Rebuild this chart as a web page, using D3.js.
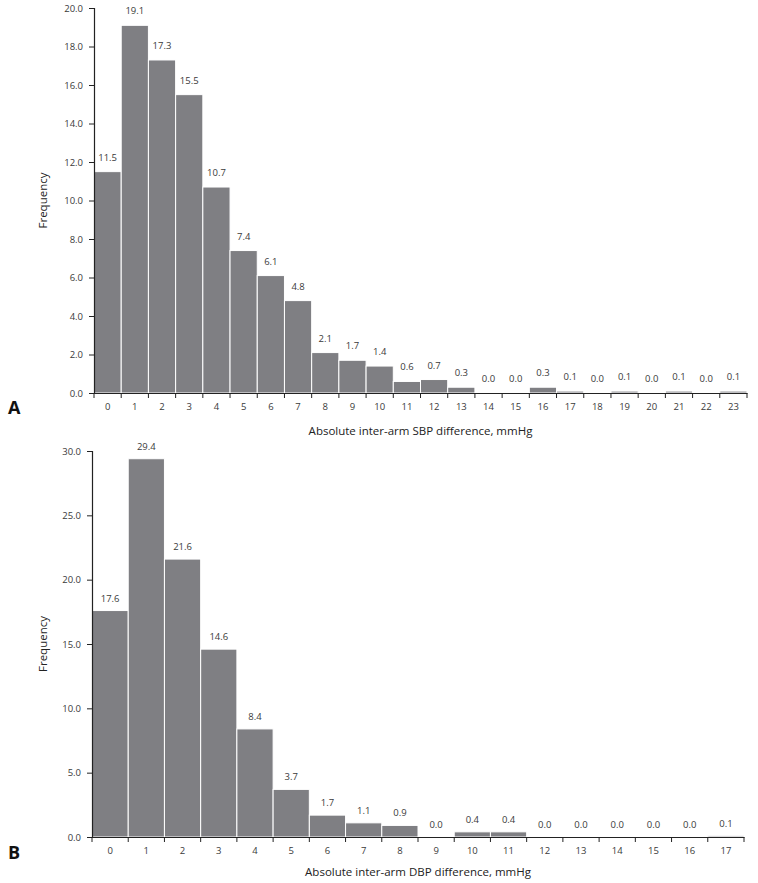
<!DOCTYPE html>
<html><head><meta charset="utf-8">
<script src="https://cdn.jsdelivr.net/npm/d3@7"></script>
<style>
body{margin:0;background:#fff;}
text{font-family:"Open Sans","DejaVu Sans",sans-serif;}
</style></head>
<body><svg id="c" width="758" height="883"></svg>
<script>
const binsA = d3.range(0, 24).map(String);
const freqA = [11.5,19.1,17.3,15.5,10.7,7.4,6.1,4.8,2.1,1.7,1.4,0.6,0.7,0.3,0.0,0.0,0.3,0.1,0.0,0.1,0.0,0.1,0.0,0.1];
const yTicksA = [0,2,4,6,8,10,12,14,16,18,20];
const binsB = d3.range(0, 18).map(String);
const freqB = [17.6,29.4,21.6,14.6,8.4,3.7,1.7,1.1,0.9,0.0,0.4,0.4,0.0,0.0,0.0,0.0,0.0,0.1];
const yTicksB = [0,5,10,15,20,25,30];

const svg = d3.select("#c");
const barColor = "#7f7f83";
const textColor = "#3a3a3a";

function panel(cfg){
  const g = svg.append("g");
  const x = d3.scaleBand().domain(cfg.bins).range([cfg.x0, cfg.x1]).padding(0);
  const y = d3.scaleLinear().domain([0, cfg.ymax]).range([cfg.y0, cfg.y1]);
  // bars
  g.selectAll("rect.bar").data(cfg.vals).join("rect")
    .attr("x", (d,i)=>x(cfg.bins[i]))
    .attr("width", x.bandwidth())
    .attr("y", d=>y(d))
    .attr("height", d=>cfg.y0 - y(d))
    .attr("fill", barColor)
    .attr("stroke", "#fff").attr("stroke-width", 1);
  // value labels
  g.selectAll("text.val").data(cfg.vals).join("text")
    .attr("x", (d,i)=>x(cfg.bins[i]) + x.bandwidth()/2)
    .attr("y", d=>y(d) - cfg.labelOff)
    .attr("text-anchor","middle")
    .attr("font-size", cfg.fs)
    .attr("fill", textColor)
    .text(d=>d.toFixed(1));
  // y axis
  const ya = g.append("g").attr("transform", `translate(${cfg.x0},0)`)
    .call(d3.axisLeft(y).tickValues(cfg.yTicks).tickFormat(d=>d.toFixed(1)).tickSize(5).tickPadding(6));
  ya.select(".domain").attr("stroke","#222").attr("stroke-width",1.2);
  ya.selectAll(".tick line").attr("stroke","#222");
  ya.selectAll(".tick text").attr("font-size", cfg.fs).attr("fill", textColor).attr("font-family",'"Open Sans",sans-serif');
  // x axis
  const xa = g.append("g").attr("transform", `translate(0,${cfg.y0})`)
    .call(d3.axisBottom(x).tickSize(0).tickPadding(10));
  xa.select(".domain").attr("stroke","#222").attr("stroke-width",1.2);
  xa.selectAll(".tick text").attr("font-size", cfg.fs).attr("fill", textColor).attr("font-family",'"Open Sans",sans-serif');
  // boundary ticks
  const bounds = cfg.bins.map(b=>x(b)).concat([cfg.x1]);
  g.selectAll("line.bt").data(bounds).join("line")
    .attr("x1", d=>d).attr("x2", d=>d)
    .attr("y1", cfg.y0).attr("y2", cfg.y0 + 5)
    .attr("stroke","#222").attr("stroke-width",1);
  // titles
  g.append("text").attr("x", (cfg.x0+cfg.x1)/2).attr("y", cfg.xTitleY)
    .attr("text-anchor","middle").attr("font-size", 11.5).attr("fill","#222")
    .text(cfg.xTitle);
  g.append("text").attr("transform", `translate(${cfg.yTitleX},${(cfg.y0+cfg.y1)/2}) rotate(-90)`)
    .attr("text-anchor","middle").attr("font-size", 11.5).attr("fill","#222")
    .text("Frequency");
  g.append("text").attr("x", 8).attr("y", cfg.letterY)
    .attr("font-size", 18).attr("font-weight","bold").attr("fill","#111")
    .attr("font-family",'"DejaVu Sans",sans-serif')
    .text(cfg.letter);
}

panel({bins:binsA, vals:freqA, yTicks:yTicksA, ymax:20, x0:94, x1:747, y0:393, y1:8,
  labelOff:11, fs:9.5, xTitle:"Absolute inter-arm SBP difference, mmHg", xTitleY:435,
  yTitleX:47, letter:"A", letterY:414});
panel({bins:binsB, vals:freqB, yTicks:yTicksB, ymax:30, x0:92, x1:744, y0:837, y1:451,
  labelOff:9, fs:9.5, xTitle:"Absolute inter-arm DBP difference, mmHg", xTitleY:876,
  yTitleX:47, letter:"B", letterY:859});
</script></body></html>
